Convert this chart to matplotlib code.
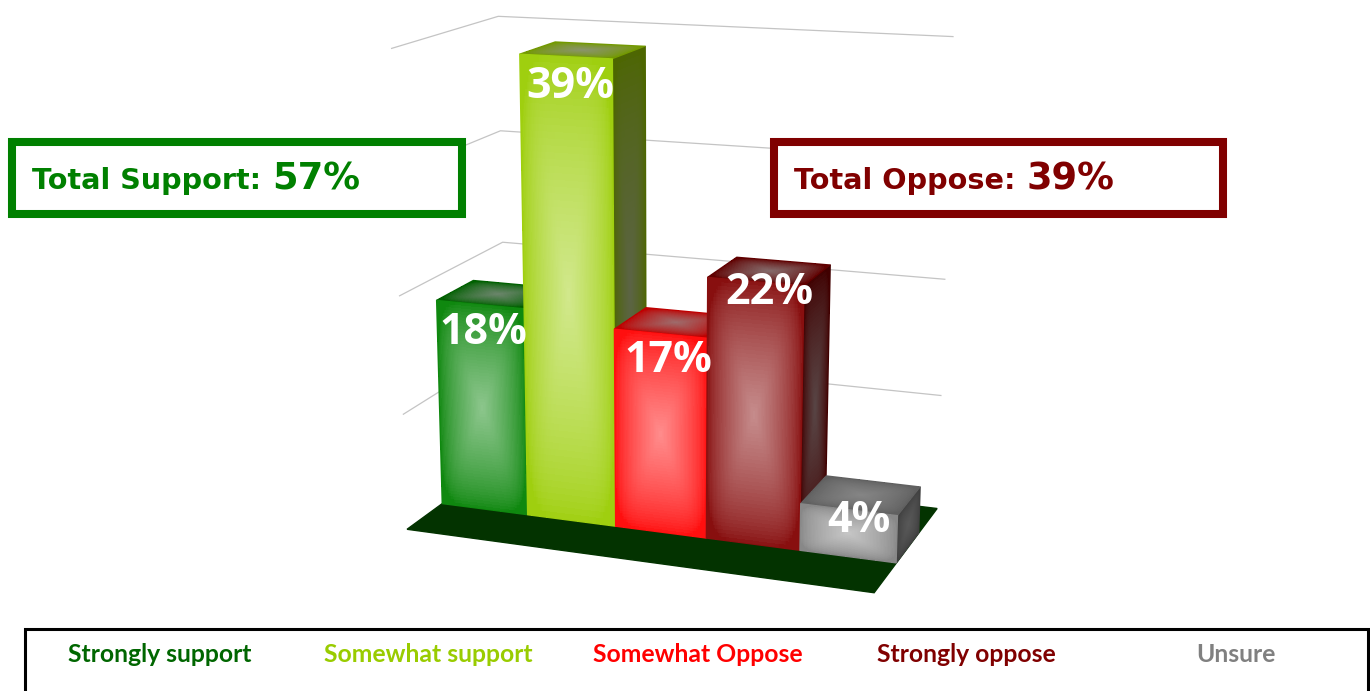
import numpy as np
import matplotlib
matplotlib.use("Agg")
import matplotlib.pyplot as plt
from matplotlib.patches import Rectangle, Polygon

categories = ["Strongly support", "Somewhat support", "Somewhat Oppose", "Strongly oppose", "Unsure"]
values = [18, 39, 17, 22, 4]
value_labels = ["18%", "39%", "17%", "22%", "4%"]
bar_colors = ["#008000", "#99CC00", "#FF0000", "#800000", "#808080"]
legend_colors = ["#006600", "#99CC00", "#FF0000", "#800000", "#808080"]
grid_ticks = [10, 20, 30, 40]
total_support = 57
total_oppose = 39

d_back, d_front = 0.31, 0.67

# camera calibration: (column, depth, value) -> where that point sits in the picture
cal_model = [(0, 0, 0), (0, 0, 10), (0, 0, 20), (0, 0, 30), (0, 0, 40),
             (0, 1, 0), (0, 1, 10), (0, 1, 20), (0, 1, 40),
             (5, 0, 0), (5, 0, 10), (5, 0, 20), (5, 0, 40), (5, 1, 0),
             (0, d_front, 0), (1, d_front, 0), (2, d_front, 0), (3, d_front, 0), (4, d_front, 0), (5, d_front, 0),
             (0, d_front, 18), (1, d_front, 39), (2, d_front, 39), (2, d_front, 17), (3, d_front, 22)]
cal_pixels = [(507, 463), (505, 352), (503, 240), (501, 129), (500, 16),
              (410, 525), (404, 413), (400, 295), (392, 47),
              (936, 503), (941, 394), (945, 278), (954, 38), (877, 594),
              (441, 503), (526, 515), (614, 527), (706, 539), (800, 552), (896, 564),
              (435, 300), (518, 55), (611, 60), (613, 331), (707, 280)]


def fit_camera(model, pixels):
    rows, rhs = [], []
    for (x, d, v), (u, w) in zip(model, pixels):
        a = [x, d, v / 10, 1]
        rows.append(a + [0, 0, 0, 0] + [-u * c for c in a[:3]])
        rhs.append(u)
        rows.append([0, 0, 0, 0] + a + [-w * c for c in a[:3]])
        rhs.append(w)
    sol = np.linalg.lstsq(np.array(rows, float), np.array(rhs, float), rcond=None)[0]
    return np.append(sol, 1.0).reshape(3, 4)


CAM = fit_camera(cal_model, cal_pixels)


def project(x, d, v):
    x, d, v = np.broadcast_arrays(np.asarray(x, float), np.asarray(d, float), np.asarray(v, float))
    h = np.stack([x, d, v / 10, np.ones_like(x)])
    out = np.tensordot(CAM, h, axes=1)
    return out[0] / out[2], out[1] / out[2]


def rgb(c):
    return np.array(matplotlib.colors.to_rgb(c))


def draw_face(ax, xfun, edge, center, z, n=70):
    # pillow shading: lit middle, saturated border
    s = np.linspace(0, 1, n + 1)
    S, T = np.meshgrid(s, s)
    X, Y = xfun(S, T)
    sc = (s[:-1] + s[1:]) / 2
    U, V = np.meshgrid(2 * sc - 1, 2 * sc - 1)
    m = (np.abs(U) ** 5 + np.abs(V) ** 5) ** 0.2
    w = np.clip(1 - m, 0, 1) ** 0.7
    C = edge + (center - edge) * w[..., None]
    ax.pcolormesh(X, Y, np.clip(C, 0, 1), antialiased=False, linewidth=0, zorder=z)
    outline = np.array([
        [X[0, 0], Y[0, 0]], [X[0, -1], Y[0, -1]], [X[-1, -1], Y[-1, -1]], [X[-1, 0], Y[-1, 0]]])
    ax.add_patch(Polygon(outline, closed=True, fill=False, edgecolor=edge, linewidth=0.7, zorder=z))


fig = plt.figure(figsize=(13.7, 6.91), dpi=100)
ax = fig.add_axes([0, 0, 1, 1])
ax.set_xlim(0, 1370)
ax.set_ylim(691, 0)
ax.axis("off")

# floor
fx, fy = project([0, 5, 5, 0], [0, 0, 1, 1], [0, 0, 0, 0])
ax.add_patch(Polygon(np.column_stack([fx, fy]), closed=True, color="#033300", zorder=1))

# gridlines on the two walls
for t in grid_ticks:
    gx, gy = project([0, 0, 5], [1, 0, 0], [t, t, t])
    ax.plot(gx, gy, color="#C4C4C4", linewidth=0.9, zorder=2)

# bars, left to right so each one covers its neighbour
for i, val in enumerate(values):
    base = rgb(bar_colors[i])
    z = 3 + i
    draw_face(ax, lambda s, t: project(i + 1, d_front + (d_back - d_front) * s, val * (1 - t)),
              base * 0.5, base * 0.15 + 0.27, z)
    draw_face(ax, lambda s, t: project(i + s, d_back + (d_front - d_back) * t, val),
              base * 0.75, base * 0.2 + 0.42, z)
    draw_face(ax, lambda s, t: project(i + s, d_front, val * (1 - t)),
              base * 0.94 + 0.06, base * 0.45 + 0.55, z)

# value labels
label_dx = [4, 5, 8, 14, 10]
label_dy = [28, 30, 27, 11, 11]
for i, val in enumerate(values):
    lx, ly = project(i + 0.5, d_front, val)
    ax.text(lx + label_dx[i], ly + label_dy[i], value_labels[i], color="white", fontsize=31,
            fontweight="bold", family="Open Sans", ha="center", va="center", zorder=10)

# total boxes
ax.add_patch(Rectangle((12, 142), 450, 72, facecolor="white", edgecolor="#008000", linewidth=5.8,
                       joinstyle="miter", zorder=11))
ax.text(32, 189, "Total Support:", color="#008000", fontsize=20.6, fontweight="bold",
        family="DejaVu Sans", ha="left", va="baseline", zorder=12)
ax.text(272, 189, f"{total_support}%", color="#008000", fontsize=26.5, fontweight="bold",
        family="DejaVu Sans", ha="left", va="baseline", zorder=12)

ax.add_patch(Rectangle((774, 142), 449, 72, facecolor="white", edgecolor="#800000", linewidth=5.8,
                       joinstyle="miter", zorder=11))
ax.text(794, 189, "Total Oppose:", color="#800000", fontsize=20.6, fontweight="bold",
        family="DejaVu Sans", ha="left", va="baseline", zorder=12)
ax.text(1027, 189, f"{total_oppose}%", color="#800000", fontsize=26.5, fontweight="bold",
        family="DejaVu Sans", ha="left", va="baseline", zorder=12)

# legend strip, bottom edge runs off the picture
ax.add_patch(Rectangle((25.5, 629), 1343, 80, facecolor="white", edgecolor="black", linewidth=2.2, zorder=11))
for i, name in enumerate(categories):
    ax.text(159.5 + 269 * i, 654, name, color=legend_colors[i], fontsize=17.8, fontweight="bold",
            family="Lato", ha="center", va="center", zorder=12)

fig.savefig("out.png", dpi=100)
